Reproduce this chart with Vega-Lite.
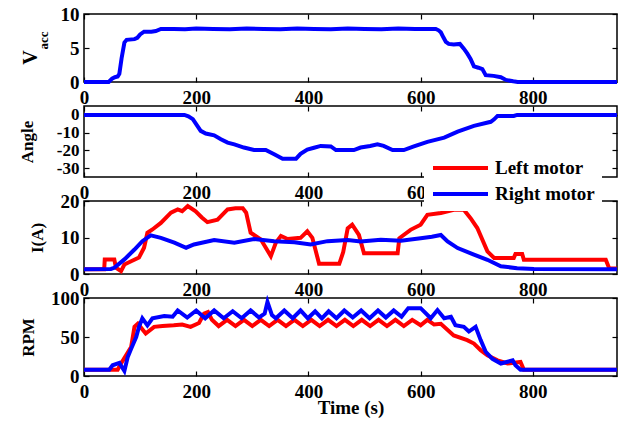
{
  "$schema": "https://vega.github.io/schema/vega-lite/v6.json",
  "autosize": {"type": "pad"},
  "padding": {"left": 17, "top": 4, "right": 6, "bottom": 6},
  "background": "white",
  "datasets": {
    "vacc": [
      {"t":0,"v":0},{"t":44,"v":0},{"t":50,"v":0.5},{"t":55,"v":0.7},{"t":60,"v":0.8},{"t":63,"v":1.2},{"t":67,"v":3.5},{"t":72,"v":5.8},{"t":76,"v":6.2},{"t":90,"v":6.3},{"t":95,"v":6.5},{"t":100,"v":7.0},{"t":107,"v":7.4},{"t":120,"v":7.4},{"t":128,"v":7.5},{"t":137,"v":7.8},{"t":160,"v":7.8},{"t":180,"v":7.75},{"t":200,"v":7.85},{"t":230,"v":7.8},{"t":260,"v":7.75},{"t":290,"v":7.85},{"t":320,"v":7.8},{"t":350,"v":7.75},{"t":380,"v":7.85},{"t":410,"v":7.8},{"t":440,"v":7.75},{"t":470,"v":7.85},{"t":500,"v":7.8},{"t":530,"v":7.75},{"t":560,"v":7.85},{"t":590,"v":7.8},{"t":627,"v":7.8},{"t":632,"v":7.6},{"t":636,"v":7.3},{"t":641,"v":6.5},{"t":645,"v":5.9},{"t":650,"v":5.6},{"t":659,"v":5.5},{"t":670,"v":5.6},{"t":677,"v":4.9},{"t":683,"v":4.2},{"t":689,"v":3.4},{"t":695,"v":2.3},{"t":703,"v":2.1},{"t":710,"v":1.9},{"t":716,"v":1.0},{"t":730,"v":0.9},{"t":743,"v":0.7},{"t":752,"v":0.3},{"t":765,"v":0.1},{"t":773,"v":0},{"t":950,"v":0}
    ],
    "angle": [
      {"t":0,"v":0},{"t":179,"v":0},{"t":186,"v":-0.8},{"t":194,"v":-2.4},{"t":202,"v":-6.2},{"t":208,"v":-9.0},{"t":217,"v":-10.5},{"t":232,"v":-11.5},{"t":244,"v":-13.7},{"t":256,"v":-15.6},{"t":268,"v":-16.6},{"t":285,"v":-18.4},{"t":303,"v":-19.8},{"t":324,"v":-19.8},{"t":339,"v":-22.2},{"t":354,"v":-24.7},{"t":378,"v":-24.7},{"t":386,"v":-22},{"t":398,"v":-19.6},{"t":410,"v":-18.5},{"t":422,"v":-17.5},{"t":440,"v":-17.8},{"t":449,"v":-19.8},{"t":481,"v":-19.8},{"t":493,"v":-18.4},{"t":510,"v":-17.5},{"t":523,"v":-16.6},{"t":534,"v":-17.5},{"t":550,"v":-19.8},{"t":570,"v":-19.8},{"t":588,"v":-17.8},{"t":612,"v":-15.2},{"t":642,"v":-12.8},{"t":666,"v":-9.4},{"t":695,"v":-6.2},{"t":725,"v":-3.9},{"t":731,"v":-2.5},{"t":737,"v":-0.6},{"t":766,"v":-0.6},{"t":772,"v":0},{"t":950,"v":0}
    ],
    "current": [
      {"motor":"Left motor","t":0,"v":1.3},{"motor":"Left motor","t":36,"v":1.3},{"motor":"Left motor","t":37,"v":4.0},{"motor":"Left motor","t":54,"v":4.0},{"motor":"Left motor","t":57,"v":1.7},{"motor":"Left motor","t":66,"v":0.8},{"motor":"Left motor","t":72,"v":2.6},{"motor":"Left motor","t":84,"v":3.5},{"motor":"Left motor","t":98,"v":4.5},{"motor":"Left motor","t":107,"v":7.2},{"motor":"Left motor","t":113,"v":11.3},{"motor":"Left motor","t":122,"v":12.2},{"motor":"Left motor","t":137,"v":14.0},{"motor":"Left motor","t":155,"v":16.8},{"motor":"Left motor","t":167,"v":17.7},{"motor":"Left motor","t":175,"v":17.2},{"motor":"Left motor","t":185,"v":18.6},{"motor":"Left motor","t":199,"v":17.2},{"motor":"Left motor","t":210,"v":15.5},{"motor":"Left motor","t":220,"v":14.2},{"motor":"Left motor","t":238,"v":14.9},{"motor":"Left motor","t":256,"v":17.7},{"motor":"Left motor","t":270,"v":18.0},{"motor":"Left motor","t":283,"v":18.0},{"motor":"Left motor","t":289,"v":16.8},{"motor":"Left motor","t":297,"v":11.3},{"motor":"Left motor","t":315,"v":9.5},{"motor":"Left motor","t":333,"v":4.9},{"motor":"Left motor","t":342,"v":8.6},{"motor":"Left motor","t":351,"v":10.4},{"motor":"Left motor","t":363,"v":9.6},{"motor":"Left motor","t":386,"v":9.9},{"motor":"Left motor","t":398,"v":11.7},{"motor":"Left motor","t":407,"v":9.9},{"motor":"Left motor","t":419,"v":2.8},{"motor":"Left motor","t":455,"v":2.8},{"motor":"Left motor","t":462,"v":6.0},{"motor":"Left motor","t":470,"v":12.5},{"motor":"Left motor","t":478,"v":13.5},{"motor":"Left motor","t":490,"v":10.7},{"motor":"Left motor","t":499,"v":5.7},{"motor":"Left motor","t":559,"v":5.7},{"motor":"Left motor","t":562,"v":9.8},{"motor":"Left motor","t":582,"v":12.1},{"motor":"Left motor","t":600,"v":13.5},{"motor":"Left motor","t":612,"v":16.2},{"motor":"Left motor","t":636,"v":16.7},{"motor":"Left motor","t":659,"v":17.6},{"motor":"Left motor","t":677,"v":17.6},{"motor":"Left motor","t":689,"v":15.3},{"motor":"Left motor","t":701,"v":12.6},{"motor":"Left motor","t":719,"v":6.2},{"motor":"Left motor","t":731,"v":4.4},{"motor":"Left motor","t":766,"v":4.4},{"motor":"Left motor","t":769,"v":5.5},{"motor":"Left motor","t":781,"v":5.5},{"motor":"Left motor","t":784,"v":3.9},{"motor":"Left motor","t":930,"v":3.9},{"motor":"Left motor","t":936,"v":1.6},{"motor":"Left motor","t":950,"v":1.5},
      {"motor":"Right motor","t":0,"v":1.3},{"motor":"Right motor","t":48,"v":1.4},{"motor":"Right motor","t":54,"v":1.7},{"motor":"Right motor","t":72,"v":4.0},{"motor":"Right motor","t":90,"v":6.7},{"motor":"Right motor","t":104,"v":9.0},{"motor":"Right motor","t":119,"v":10.6},{"motor":"Right motor","t":137,"v":9.9},{"motor":"Right motor","t":161,"v":8.6},{"motor":"Right motor","t":182,"v":7.2},{"motor":"Right motor","t":196,"v":8.1},{"motor":"Right motor","t":232,"v":9.3},{"motor":"Right motor","t":268,"v":8.6},{"motor":"Right motor","t":303,"v":9.6},{"motor":"Right motor","t":339,"v":9.0},{"motor":"Right motor","t":375,"v":8.7},{"motor":"Right motor","t":404,"v":8.1},{"motor":"Right motor","t":434,"v":9.0},{"motor":"Right motor","t":470,"v":9.3},{"motor":"Right motor","t":493,"v":8.9},{"motor":"Right motor","t":529,"v":9.4},{"motor":"Right motor","t":565,"v":9.1},{"motor":"Right motor","t":600,"v":9.8},{"motor":"Right motor","t":620,"v":10.2},{"motor":"Right motor","t":636,"v":10.7},{"motor":"Right motor","t":648,"v":8.9},{"motor":"Right motor","t":666,"v":7.1},{"motor":"Right motor","t":695,"v":5.3},{"motor":"Right motor","t":719,"v":3.9},{"motor":"Right motor","t":743,"v":2.1},{"motor":"Right motor","t":772,"v":1.6},{"motor":"Right motor","t":802,"v":1.4},{"motor":"Right motor","t":950,"v":1.3}
    ],
    "rpm": [
      {"motor":"Left motor","t":0,"v":8},{"motor":"Left motor","t":60,"v":8},{"motor":"Left motor","t":66,"v":16},{"motor":"Left motor","t":75,"v":26.5},{"motor":"Left motor","t":84,"v":37},{"motor":"Left motor","t":90,"v":63},{"motor":"Left motor","t":96,"v":67},{"motor":"Left motor","t":110,"v":54.5},{"motor":"Left motor","t":125,"v":63},{"motor":"Left motor","t":140,"v":64},{"motor":"Left motor","t":160,"v":65},{"motor":"Left motor","t":175,"v":66},{"motor":"Left motor","t":190,"v":63},{"motor":"Left motor","t":205,"v":68},{"motor":"Left motor","t":214,"v":80},{"motor":"Left motor","t":221,"v":82},{"motor":"Left motor","t":228,"v":72},{"motor":"Left motor","t":240,"v":64},{"motor":"Left motor","t":255,"v":72},{"motor":"Left motor","t":270,"v":64},{"motor":"Left motor","t":285,"v":72},{"motor":"Left motor","t":300,"v":64},{"motor":"Left motor","t":315,"v":72},{"motor":"Left motor","t":330,"v":64},{"motor":"Left motor","t":345,"v":72},{"motor":"Left motor","t":360,"v":64},{"motor":"Left motor","t":375,"v":72},{"motor":"Left motor","t":390,"v":64},{"motor":"Left motor","t":405,"v":72},{"motor":"Left motor","t":420,"v":64},{"motor":"Left motor","t":435,"v":72},{"motor":"Left motor","t":450,"v":64},{"motor":"Left motor","t":465,"v":72},{"motor":"Left motor","t":480,"v":64},{"motor":"Left motor","t":495,"v":72},{"motor":"Left motor","t":510,"v":64},{"motor":"Left motor","t":525,"v":72},{"motor":"Left motor","t":540,"v":64},{"motor":"Left motor","t":555,"v":72},{"motor":"Left motor","t":570,"v":64},{"motor":"Left motor","t":585,"v":72},{"motor":"Left motor","t":600,"v":65},{"motor":"Left motor","t":612,"v":72},{"motor":"Left motor","t":624,"v":66},{"motor":"Left motor","t":636,"v":67},{"motor":"Left motor","t":659,"v":52},{"motor":"Left motor","t":683,"v":46},{"motor":"Left motor","t":695,"v":41.6},{"motor":"Left motor","t":707,"v":33},{"motor":"Left motor","t":719,"v":26.5},{"motor":"Left motor","t":737,"v":20},{"motor":"Left motor","t":755,"v":16},{"motor":"Left motor","t":778,"v":18},{"motor":"Left motor","t":784,"v":8},{"motor":"Left motor","t":950,"v":8},
      {"motor":"Right motor","t":0,"v":8},{"motor":"Right motor","t":45,"v":8},{"motor":"Right motor","t":51,"v":13.7},{"motor":"Right motor","t":63,"v":16.7},{"motor":"Right motor","t":72,"v":6.4},{"motor":"Right motor","t":78,"v":24.5},{"motor":"Right motor","t":84,"v":35},{"motor":"Right motor","t":93,"v":50},{"motor":"Right motor","t":98,"v":63},{"motor":"Right motor","t":104,"v":74},{"motor":"Right motor","t":113,"v":65},{"motor":"Right motor","t":122,"v":74},{"motor":"Right motor","t":143,"v":77},{"motor":"Right motor","t":158,"v":76},{"motor":"Right motor","t":167,"v":84},{"motor":"Right motor","t":184,"v":75},{"motor":"Right motor","t":200,"v":84},{"motor":"Right motor","t":216,"v":74},{"motor":"Right motor","t":232,"v":84},{"motor":"Right motor","t":249,"v":74},{"motor":"Right motor","t":265,"v":83},{"motor":"Right motor","t":281,"v":74},{"motor":"Right motor","t":297,"v":84},{"motor":"Right motor","t":312,"v":75},{"motor":"Right motor","t":322,"v":80},{"motor":"Right motor","t":327,"v":95},{"motor":"Right motor","t":335,"v":78},{"motor":"Right motor","t":342,"v":74},{"motor":"Right motor","t":357,"v":84},{"motor":"Right motor","t":372,"v":74},{"motor":"Right motor","t":386,"v":84},{"motor":"Right motor","t":399,"v":74},{"motor":"Right motor","t":412,"v":83},{"motor":"Right motor","t":424,"v":74},{"motor":"Right motor","t":436,"v":83},{"motor":"Right motor","t":450,"v":74},{"motor":"Right motor","t":464,"v":84},{"motor":"Right motor","t":479,"v":75},{"motor":"Right motor","t":494,"v":84},{"motor":"Right motor","t":509,"v":74},{"motor":"Right motor","t":524,"v":84},{"motor":"Right motor","t":538,"v":75},{"motor":"Right motor","t":552,"v":84},{"motor":"Right motor","t":566,"v":76},{"motor":"Right motor","t":578,"v":87},{"motor":"Right motor","t":600,"v":87},{"motor":"Right motor","t":618,"v":74},{"motor":"Right motor","t":630,"v":84.5},{"motor":"Right motor","t":642,"v":74},{"motor":"Right motor","t":654,"v":76},{"motor":"Right motor","t":662,"v":65},{"motor":"Right motor","t":677,"v":63},{"motor":"Right motor","t":686,"v":57},{"motor":"Right motor","t":698,"v":63},{"motor":"Right motor","t":707,"v":46},{"motor":"Right motor","t":716,"v":31},{"motor":"Right motor","t":728,"v":22},{"motor":"Right motor","t":743,"v":16},{"motor":"Right motor","t":764,"v":20},{"motor":"Right motor","t":769,"v":13.7},{"motor":"Right motor","t":778,"v":8},{"motor":"Right motor","t":950,"v":8}
    ],
    "dummy": [{"t": 0, "v": 0}]
  },
  "bounds": "flush",
  "spacing": 24,
  "resolve": {"legend": {"color": "independent"}},
  "vconcat": [
    {
      "width": 533, "height": 68,
      "layer": [
        {
          "data": {"name": "vacc"},
          "mark": {"type": "line", "color": "#0000ff", "strokeWidth": 4},
          "encoding": {
            "x": {"field": "t", "type": "quantitative", "scale": {"domain": [0, 950], "nice": false}, "axis": {"orient": "bottom", "values": [0,200,400,600,800], "title": null}},
            "y": {"field": "v", "type": "quantitative", "scale": {"domain": [0, 10], "nice": false}, "axis": {"orient": "left", "values": [0,5,10], "title": "V", "titleFontSize": 20, "titleAngle": 270, "titleBaseline": "alphabetic", "titleAlign": "center", "titleX": -48, "titleY": 43}}
          }
        },
        {
          "data": {"name": "dummy"},
          "mark": {"type": "point", "opacity": 0},
          "encoding": {
            "x": {"field": "t", "type": "quantitative", "scale": {"domain": [0, 950], "nice": false}, "axis": {"orient": "top", "values": [0,200,400,600,800], "labels": false, "title": null}},
            "y": {"field": "v", "type": "quantitative", "scale": {"domain": [0, 10], "nice": false}, "axis": {"orient": "right", "values": [0,5,10], "labels": false, "title": "acc", "titleFontSize": 13, "titleAngle": 270, "titleBaseline": "alphabetic", "titleAlign": "center", "titleX": -570, "titleY": 26}}
          }
        }
      ]
    },
    {
      "width": 533, "height": 71,
      "layer": [
        {
          "data": {"name": "angle"},
          "mark": {"type": "line", "color": "#0000ff", "strokeWidth": 4},
          "encoding": {
            "x": {"field": "t", "type": "quantitative", "scale": {"domain": [0, 950], "nice": false}, "axis": {"orient": "bottom", "values": [0,200,400,600], "title": null}},
            "y": {"field": "v", "type": "quantitative", "scale": {"domain": [-35, 5], "nice": false, "zero": false}, "axis": {"orient": "left", "values": [0,-10,-20,-30], "labelExpr": "'' + datum.value", "labelFontSize": 17, "title": "Angle", "titleAngle": 270, "titleBaseline": "alphabetic", "titleAlign": "center", "titleX": -52}}
          }
        },
        {
          "data": {"name": "dummy"},
          "mark": {"type": "point", "opacity": 0},
          "encoding": {
            "x": {"field": "t", "type": "quantitative", "scale": {"domain": [0, 950], "nice": false}, "axis": {"orient": "top", "values": [0,200,400,600,800], "labels": false, "title": null}},
            "y": {"field": "v", "type": "quantitative", "scale": {"domain": [-35, 5], "nice": false, "zero": false}, "axis": {"orient": "right", "values": [0,-10,-20,-30], "labels": false, "title": null}}
          }
        }
      ]
    },
    {
      "width": 533, "height": 73,
      "layer": [
        {
          "data": {"name": "current"},
          "mark": {"type": "line", "strokeWidth": 4},
          "encoding": {
            "x": {"field": "t", "type": "quantitative", "scale": {"domain": [0, 950], "nice": false}, "axis": {"orient": "bottom", "values": [0,200,400,600,800], "title": null}},
            "y": {"field": "v", "type": "quantitative", "scale": {"domain": [0, 20], "nice": false}, "axis": {"orient": "left", "values": [0,10,20], "title": "I(A)", "titleAngle": 270, "titleBaseline": "alphabetic", "titleAlign": "center", "titleX": -42}},
            "color": {"field": "motor", "type": "nominal", "scale": {"domain": ["Left motor", "Right motor"], "range": ["#ff0000", "#0000ff"]},
              "legend": {"orient": "none", "legendX": 340, "legendY": -52, "fillColor": "white", "padding": 7, "title": null, "symbolType": "M-1,0H4.5", "symbolSize": 400, "symbolStrokeWidth": 4, "labelOffset": 40, "labelFontSize": 19, "labelFont": "Liberation Serif", "labelFontWeight": "bold", "labelColor": "black", "rowPadding": 4, "strokeColor": null}}
          }
        },
        {
          "data": {"name": "dummy"},
          "mark": {"type": "point", "opacity": 0},
          "encoding": {
            "x": {"field": "t", "type": "quantitative", "scale": {"domain": [0, 950], "nice": false}, "axis": {"orient": "top", "values": [0,200,400,600,800], "labels": false, "title": null}},
            "y": {"field": "v", "type": "quantitative", "scale": {"domain": [0, 20], "nice": false}, "axis": {"orient": "right", "values": [0,10,20], "labels": false, "title": null}}
          }
        }
      ]
    },
    {
      "width": 533, "height": 78,
      "layer": [
        {
          "data": {"name": "rpm"},
          "mark": {"type": "line", "strokeWidth": 4},
          "encoding": {
            "x": {"field": "t", "type": "quantitative", "scale": {"domain": [0, 950], "nice": false}, "axis": {"orient": "bottom", "values": [0,200,400,600,800], "title": "Time (s)", "titleFontSize": 19, "titleBaseline": "alphabetic", "titleY": 37}},
            "y": {"field": "v", "type": "quantitative", "scale": {"domain": [0, 100], "nice": false}, "axis": {"orient": "left", "values": [0,50,100], "title": "RPM", "titleAngle": 270, "titleBaseline": "alphabetic", "titleAlign": "center", "titleX": -51}},
            "color": {"field": "motor", "type": "nominal", "scale": {"domain": ["Left motor", "Right motor"], "range": ["#ff0000", "#0000ff"]}, "legend": null}
          }
        },
        {
          "data": {"name": "dummy"},
          "mark": {"type": "point", "opacity": 0},
          "encoding": {
            "x": {"field": "t", "type": "quantitative", "scale": {"domain": [0, 950], "nice": false}, "axis": {"orient": "top", "values": [0,200,400,600,800], "labels": false, "title": null}},
            "y": {"field": "v", "type": "quantitative", "scale": {"domain": [0, 100], "nice": false}, "axis": {"orient": "right", "values": [0,50,100], "labels": false, "title": null}}
          }
        }
      ]
    }
  ],
  "config": {
    "font": "Liberation Serif",
    "view": {"stroke": "black", "strokeWidth": 1.5},
    "axis": {
      "labelFont": "Liberation Serif", "labelFontSize": 19, "labelFontWeight": "bold", "labelColor": "black",
      "titleFont": "Liberation Serif", "titleFontSize": 17, "titleFontWeight": "bold", "titleColor": "black",
      "grid": false, "domain": false, "tickColor": "black", "tickSize": -5, "tickWidth": 1.2,
      "labelPadding": 11, "labelFlush": false, "labelOverlap": false
    },
    "axisY": {"labelPadding": 10, "labelOverlap": false}
  }
}
